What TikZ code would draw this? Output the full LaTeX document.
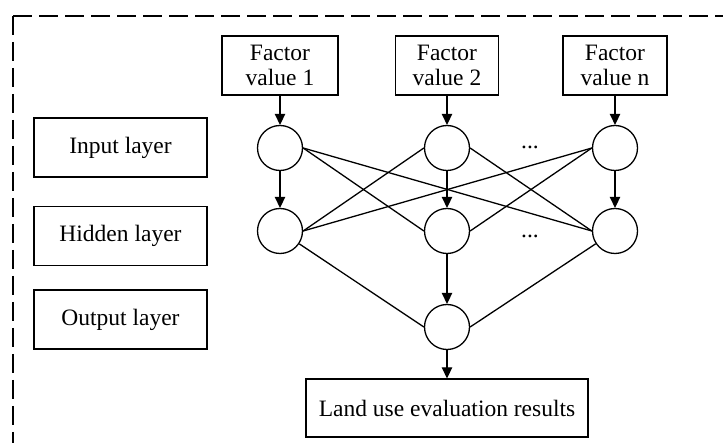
\documentclass[tikz,border=0pt]{standalone}
\usepackage{fontspec}
\setmainfont{Liberation Serif}
\usetikzlibrary{arrows.meta}
\begin{document}
\begin{tikzpicture}[x=1pt,y=-1pt,
  every node/.style={font=\fontsize{23.5}{25}\selectfont, inner sep=0pt},
  box/.style={draw, line width=1.3pt, minimum height=59pt, align=center},
  layerbox/.style={box, minimum width=173pt},
  neuron/.style={draw, line width=1.3pt, circle, minimum size=45pt},
  link/.style={line width=1.3pt},
  arr/.style={line width=1.3pt, -{Triangle[length=11pt,width=10.5pt]}},
  frame/.style={line width=1.3pt, dash pattern=on 19pt off 7pt}]
\useasboundingbox (0,0) rectangle (723,443);

% open dashed frame (top and left edges)
\coordinate (corner) at (13,16);
\coordinate (frameR) at (723,16);
\coordinate (frameB) at (13,443);
\draw[frame] (corner) -- (frameR);
\draw[frame] (corner) -- (frameB);

% layer labels
\node[layerbox] (lin)  at (120.5,147.5) {Input layer};
\node[layerbox] (lhid) at (120.5,236)   {Hidden layer};
\node[layerbox] (lout) at (120.5,319.5) {Output layer};

% factor inputs
\node[box, minimum width=116pt] (f1) at (280,65.5) {Factor\\value 1};
\node[box, minimum width=103pt] (f2) at (447,65.5) {Factor\\value 2};
\node[box, minimum width=104pt] (fn) at (615,65.5) {Factor\\value n};

% neurons
\node[neuron] (i1) at (280,148) {};
\node[neuron] (i2) at (447,148) {};
\node[neuron] (i3) at (615,148) {};
\node[neuron] (h1) at (280,231) {};
\node[neuron] (h2) at (447,231) {};
\node[neuron] (h3) at (615,231) {};
\node[neuron] (o)  at (447,327) {};

\node[anchor=base] (dotsi) at (530,149) {...};
\node[anchor=base] (dotsh) at (530,238) {...};

% result
\node[box, minimum width=282pt, minimum height=58pt] (res) at (447,408) {Land use evaluation results};

% arrows
\draw[arr] (f1) -- (i1);
\draw[arr] (f2) -- (i2);
\draw[arr] (fn) -- (i3);
\draw[arr] (i1) -- (h1);
\draw[arr] (i2) -- (h2);
\draw[arr] (i3) -- (h3);
\draw[arr] (h2) -- (o);
\draw[arr] (o) -- (res);

% cross connections
\draw[link] (i1.east) -- (h2.west);
\draw[link] (i1.east) -- (h3.west);
\draw[link] (i2.west) -- (h1.east);
\draw[link] (i2.east) -- (h3.west);
\draw[link] (i3.west) -- (h1.east);
\draw[link] (i3.west) -- (h2.east);
\draw[link] (h1) -- (o.west);
\draw[link] (h3) -- (o.east);
\end{tikzpicture}
\end{document}
